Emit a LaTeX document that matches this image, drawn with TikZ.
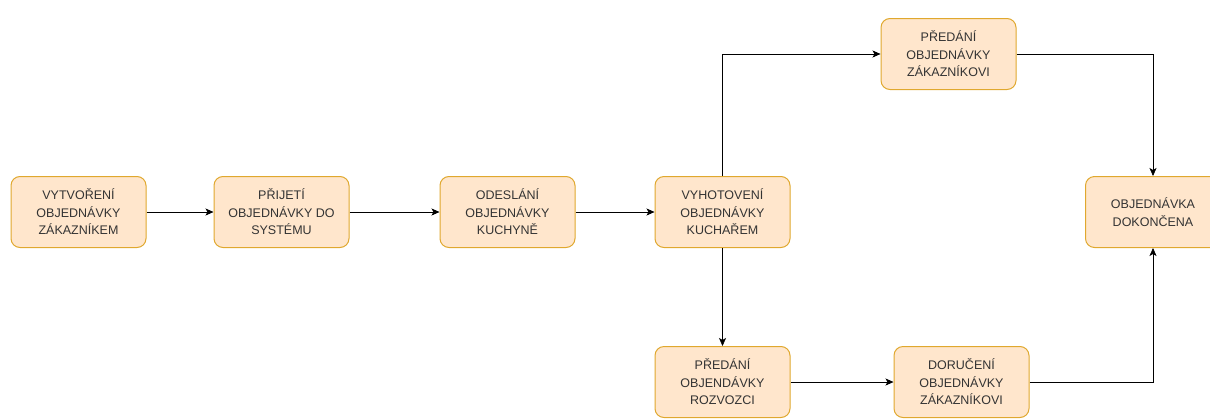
\documentclass[tikz,border=0pt]{standalone}
\usepackage{fontspec}
\setmainfont{Liberation Sans}
\usepackage{tikz}
\usetikzlibrary{arrows.meta,positioning}

\definecolor{boxfill}{HTML}{FFE6CC}
\definecolor{boxline}{HTML}{E0A82E}

\begin{document}
\begin{tikzpicture}[->,>={Stealth[length=8pt,width=7pt,inset=2pt]},semithick,node distance=68pt,
  step node/.style={rectangle,rounded corners=9pt,fill=boxfill,draw=boxline,
    line width=1pt,minimum width=135pt,minimum height=71pt,align=center,
    font=\fontsize{12.5}{17.5}\selectfont,text=black!80}]

  \useasboundingbox (0pt,0pt) rectangle (1210pt,-418pt);

  \node[step node] (1) at (78.5pt,-212pt) {VYTVOŘENÍ\\OBJEDNÁVKY\\ZÁKAZNÍKEM};
  \node[step node] (2) [right=67pt of 1] {PŘIJETÍ\\OBJEDNÁVKY DO\\SYSTÉMU};
  \node[step node] (3) [right=90pt of 2] {ODESLÁNÍ\\OBJEDNÁVKY\\KUCHYNĚ};
  \node[step node] (4) [right=79pt of 3] {VYHOTOVENÍ\\OBJEDNÁVKY\\KUCHAŘEM};
  \node[step node] (5) [above right=86pt and 90pt of 4] {PŘEDÁNÍ\\OBJEDNÁVKY\\ZÁKAZNÍKOVI};
  \node[step node] (6) at (1153pt,-212pt) {OBJEDNÁVKA\\DOKONČENA};
  \node[step node] (7) [below=98pt of 4] {PŘEDÁNÍ\\OBJENDÁVKY\\ROZVOZCI};
  \node[step node] (8) [right=103pt of 7] {DORUČENÍ\\OBJEDNÁVKY\\ZÁKAZNÍKOVI};

  \path
    (1) edge (2)
    (2) edge (3)
    (3) edge (4)
    (4) edge (7)
    (7) edge (8)
    ;
  \draw (4.north) |- (5.west);
  \draw (5.east) -| (6.north);
  \draw (8.east) -| (6.south);

\end{tikzpicture}
\end{document}
